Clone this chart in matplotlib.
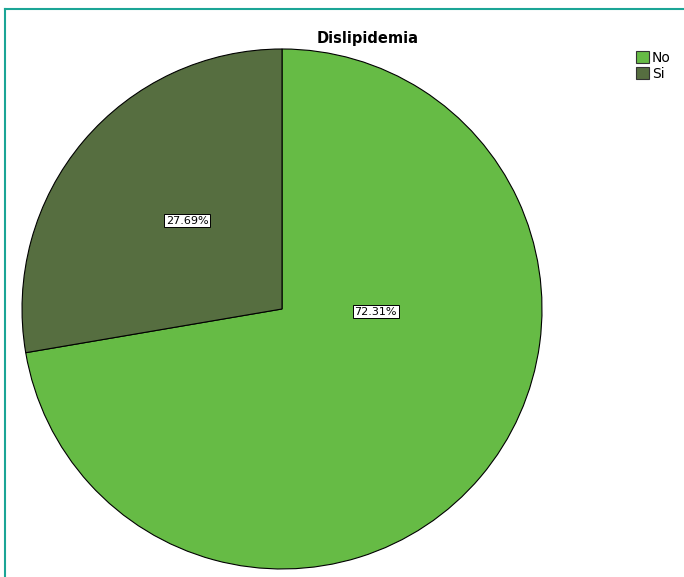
import matplotlib
matplotlib.use("Agg")
import matplotlib.pyplot as plt
from matplotlib.lines import Line2D
from matplotlib.patches import Patch

categories = ["No", "Si"]
percentages = [72.31, 27.69]
colors = ["#66bb45", "#566e40"]
title = "Dislipidemia"

# label spots in pie units (SPSS doesn't put them at slice midpoints)
label_xy = [(0.36, -0.01), (-0.365, 0.34)]

fig = plt.figure(figsize=(6.84, 5.77), dpi=100)
ax = fig.add_axes([0.0322, 0.0139, 0.7602, 0.9012])

ax.pie(percentages, colors=colors, startangle=90, counterclock=False,
       wedgeprops=dict(edgecolor="black", linewidth=0.8))
ax.set_xlim(-1.0, 1.0)
ax.set_ylim(-1.0, 1.0)
ax.set_aspect("equal")

for (x, y), p in zip(label_xy, percentages):
    ax.text(x, y, f"{p:.2f}%", ha="center", va="center", fontsize=8,
            bbox=dict(boxstyle="square,pad=0.15", facecolor="white",
                      edgecolor="black", linewidth=0.7))

fig.text(368 / 684, 1 - 39 / 577, title, ha="center", va="center",
         fontsize=10.5, fontweight="bold")

handles = [Patch(facecolor=c, edgecolor="#333333", linewidth=0.8) for c in colors]
fig.legend(handles, categories, loc="upper left", bbox_to_anchor=(636 / 684, 1 - 51 / 577),
           frameon=False, fontsize=10, handlelength=0.9, handleheight=0.95,
           handletextpad=0.25, labelspacing=0.15, borderpad=0, borderaxespad=0)

# teal frame on top and left
teal = "#1ba596"
fig.add_artist(Line2D([5 / 684, 1], [1 - 9 / 577, 1 - 9 / 577], color=teal, linewidth=1.5))
fig.add_artist(Line2D([5 / 684, 5 / 684], [0, 1 - 9 / 577], color=teal, linewidth=1.5))

fig.savefig("out.png", dpi=100)
